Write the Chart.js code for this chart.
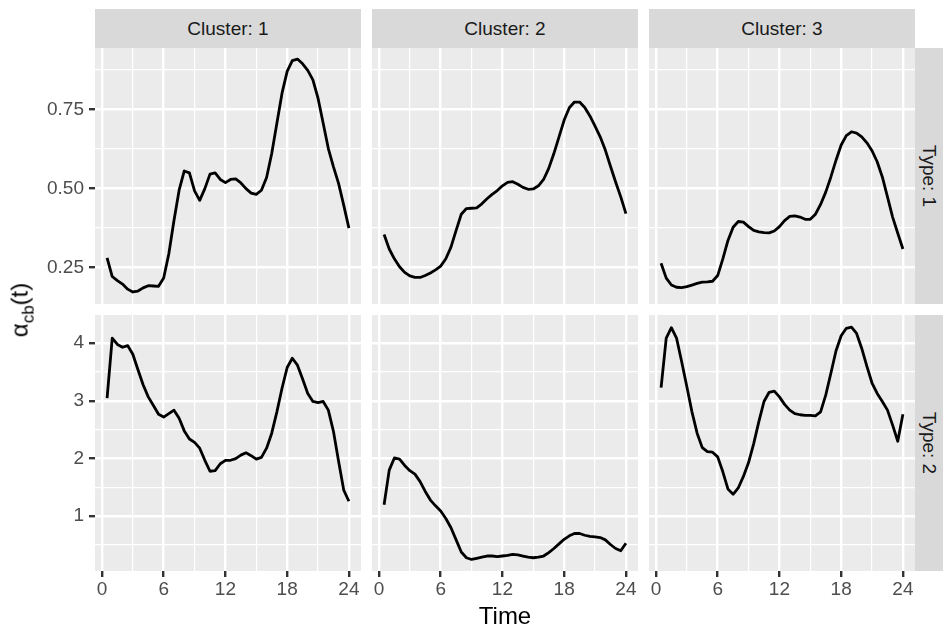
<!DOCTYPE html>
<html>
<head>
<meta charset="utf-8">
<script src="https://cdn.jsdelivr.net/npm/chart.js@4.4.1/dist/chart.umd.min.js"></script>
<style>
  body { margin: 0; background: #fff; width: 943px; height: 628px; overflow: hidden; position: relative;
         font-family: "Liberation Sans", Arial, sans-serif; }
  canvas { position: absolute; }
  .strip { position: absolute; background: #D9D9D9; color: #1A1A1A; font-size: 19px;
           display: flex; align-items: center; justify-content: center; white-space: nowrap; }
  .vtext { transform: rotate(90deg); }
  .title { position: absolute; color: #000; font-size: 24px; white-space: nowrap; }
</style>
</head>
<body>
<script>
// facet labels
const clusters = ["Cluster: 1", "Cluster: 2", "Cluster: 3"];
const types = ["Type: 1", "Type: 2"];

// time points (hours)
const times = [0.5, 1, 1.5, 2, 2.5, 3, 3.5, 4, 4.5, 5, 5.5, 6, 6.5, 7, 7.5, 8, 8.5, 9, 9.5, 10, 10.5, 11, 11.5, 12,
  12.5, 13, 13.5, 14, 14.5, 15, 15.5, 16, 16.5, 17, 17.5, 18, 18.5, 19, 19.5, 20, 20.5, 21, 21.5, 22, 22.5, 23, 23.5, 24];

// Type 1
const c1t1 = [0.280, 0.221, 0.208, 0.197, 0.181, 0.172, 0.175, 0.185, 0.192, 0.191, 0.190, 0.216, 0.293, 0.398, 0.494, 0.555,
  0.549, 0.492, 0.462, 0.499, 0.545, 0.549, 0.528, 0.518, 0.528, 0.530, 0.517, 0.499, 0.485, 0.481, 0.494, 0.534,
  0.610, 0.706, 0.801, 0.870, 0.904, 0.909, 0.894, 0.873, 0.843, 0.785, 0.706, 0.626, 0.568, 0.515, 0.446, 0.374];
const c2t1 = [0.354, 0.308, 0.277, 0.252, 0.234, 0.223, 0.218, 0.218, 0.224, 0.232, 0.242, 0.254, 0.277, 0.314, 0.367, 0.418,
  0.436, 0.437, 0.438, 0.451, 0.467, 0.481, 0.493, 0.508, 0.519, 0.521, 0.513, 0.503, 0.497, 0.498, 0.508, 0.528,
  0.563, 0.610, 0.663, 0.716, 0.755, 0.773, 0.773, 0.756, 0.729, 0.697, 0.663, 0.621, 0.570, 0.520, 0.473, 0.420];
const c3t1 = [0.263, 0.216, 0.194, 0.187, 0.186, 0.189, 0.194, 0.199, 0.203, 0.204, 0.206, 0.224, 0.277, 0.335, 0.377, 0.395,
  0.393, 0.379, 0.367, 0.362, 0.360, 0.359, 0.365, 0.379, 0.398, 0.411, 0.413, 0.409, 0.402, 0.402, 0.418, 0.449,
  0.488, 0.536, 0.589, 0.637, 0.667, 0.679, 0.675, 0.663, 0.644, 0.619, 0.584, 0.536, 0.473, 0.409, 0.358, 0.308];

// Type 2
const c1t2 = [3.05, 4.09, 3.98, 3.93, 3.96, 3.81, 3.54, 3.28, 3.07, 2.92, 2.77, 2.72, 2.78, 2.84, 2.70, 2.48,
  2.34, 2.28, 2.18, 1.97, 1.78, 1.79, 1.91, 1.97, 1.97, 2.00, 2.06, 2.10, 2.05, 1.99, 2.02, 2.18,
  2.44, 2.81, 3.22, 3.58, 3.74, 3.62, 3.38, 3.13, 2.99, 2.97, 2.99, 2.84, 2.47, 1.95, 1.45, 1.26];
const c2t2 = [1.20, 1.80, 2.01, 1.99, 1.88, 1.79, 1.73, 1.60, 1.43, 1.28, 1.18, 1.09, 0.96, 0.80, 0.59, 0.38,
  0.28, 0.25, 0.27, 0.29, 0.31, 0.31, 0.30, 0.31, 0.32, 0.34, 0.33, 0.31, 0.29, 0.28, 0.29, 0.31,
  0.37, 0.44, 0.52, 0.60, 0.66, 0.70, 0.70, 0.67, 0.65, 0.64, 0.63, 0.59, 0.51, 0.44, 0.40, 0.53];
const c3t2 = [3.23, 4.09, 4.27, 4.09, 3.68, 3.25, 2.81, 2.44, 2.19, 2.12, 2.11, 2.03, 1.77, 1.47, 1.38, 1.49,
  1.69, 1.93, 2.26, 2.64, 2.99, 3.15, 3.17, 3.07, 2.94, 2.84, 2.78, 2.76, 2.75, 2.75, 2.74, 2.81,
  3.10, 3.48, 3.87, 4.13, 4.26, 4.28, 4.17, 3.91, 3.60, 3.31, 3.13, 2.99, 2.84, 2.58, 2.30, 2.77];

// ticks
const xTicks = [0, 6, 12, 18, 24];
const xMinor = [3, 9, 15, 21];
const yTicksType1 = [0.25, 0.5, 0.75];
const yLabelsType1 = ["0.25", "0.50", "0.75"];
const yMinorType1 = [0.375, 0.625, 0.875];
const yTicksType2 = [1, 2, 3, 4];
const yLabelsType2 = ["1", "2", "3", "4"];
const yMinorType2 = [0.5, 1.5, 2.5, 3.5];

const panels = [[c1t1, c2t1, c3t1], [c1t2, c2t2, c3t2]];
const yLimits = [[0.134, 0.944], [0.05, 4.49]];

// layout in pixels
const panelLeft = [95, 372, 649];
const panelTop = [48, 315];
const panelW = 266;
const panelH = 256;
const yAxisW = 60;
const xAxisH = 40;
const fontFamily = '"Liberation Sans", Arial, sans-serif';

const panelBg = {
    id: 'panelBg',
    beforeDraw(chart) {
        let a = chart.chartArea;
        let ctx = chart.ctx;
        ctx.save();
        ctx.fillStyle = '#EBEBEB';
        ctx.fillRect(a.left, a.top, a.right - a.left, a.bottom - a.top);
        ctx.restore();
    }
};

function makePanel(row, col) {
    let values = panels[row][col];
    let yMajor = row == 0 ? yTicksType1 : yTicksType2;
    let yMin = row == 0 ? yMinorType1 : yMinorType2;
    let yLab = row == 0 ? yLabelsType1 : yLabelsType2;
    let yAll = yMajor.concat(yMin).sort((a, b) => a - b);
    let xAll = xTicks.concat(xMinor).sort((a, b) => a - b);

    let w = panelW + (col == 0 ? yAxisW : 0);
    let h = panelH + (row == 1 ? xAxisH : 0);
    let canvas = document.createElement('canvas');
    canvas.width = w;
    canvas.height = h;
    canvas.style.width = w + 'px';
    canvas.style.height = h + 'px';
    canvas.style.left = (panelLeft[col] - (col == 0 ? yAxisW : 0)) + 'px';
    canvas.style.top = panelTop[row] + 'px';
    document.body.appendChild(canvas);

    new Chart(canvas, {
        type: 'line',
        data: {
            datasets: [{
                data: times.map((t, i) => ({ x: t, y: values[i] })),
                borderColor: '#000000',
                borderWidth: 2.8,
                borderJoinStyle: 'round',
                pointRadius: 0,
                tension: 0,
                fill: false
            }]
        },
        options: {
            responsive: false,
            animation: false,
            devicePixelRatio: 1,
            layout: { padding: 0 },
            plugins: { legend: { display: false }, tooltip: { enabled: false } },
            scales: {
                x: {
                    type: 'linear',
                    min: -0.675,
                    max: 25.175,
                    afterBuildTicks: s => { s.ticks = xAll.map(v => ({ value: v })); },
                    afterFit: s => { s.height = row == 1 ? xAxisH : 0; s.paddingLeft = 0; s.paddingRight = 0; },
                    border: { display: false },
                    grid: {
                        color: '#FFFFFF',
                        lineWidth: c => xTicks.includes(c.tick.value) ? 2.4 : 1.2,
                        drawTicks: row == 1,
                        tickLength: 6,
                        tickWidth: 2.4,
                        tickColor: c => xTicks.includes(c.tick.value) ? '#333333' : 'rgba(0,0,0,0)'
                    },
                    ticks: {
                        display: row == 1,
                        autoSkip: false,
                        maxRotation: 0,
                        padding: 1,
                        color: '#4D4D4D',
                        font: { size: 19, family: fontFamily },
                        callback: v => xTicks.includes(v) ? String(v) : ''
                    }
                },
                y: {
                    type: 'linear',
                    min: yLimits[row][0],
                    max: yLimits[row][1],
                    afterBuildTicks: s => { s.ticks = yAll.map(v => ({ value: v })); },
                    afterFit: s => { s.width = col == 0 ? yAxisW : 0; s.paddingTop = 0; s.paddingBottom = 0; },
                    border: { display: false },
                    grid: {
                        color: '#FFFFFF',
                        lineWidth: c => yMajor.includes(c.tick.value) ? 2.4 : 1.2,
                        drawTicks: col == 0,
                        tickLength: 6,
                        tickWidth: 2.4,
                        tickColor: c => yMajor.includes(c.tick.value) ? '#333333' : 'rgba(0,0,0,0)'
                    },
                    ticks: {
                        display: col == 0,
                        autoSkip: false,
                        padding: 5,
                        color: '#4D4D4D',
                        font: { size: 19, family: fontFamily },
                        callback: v => {
                            let i = yMajor.indexOf(v);
                            return i >= 0 ? yLab[i] : '';
                        }
                    }
                }
            }
        },
        plugins: [panelBg]
    });
}

function addStrips() {
    for (let c = 0; c < clusters.length; c++) {
        let d = document.createElement('div');
        d.className = 'strip';
        d.style.left = panelLeft[c] + 'px';
        d.style.top = '9px';
        d.style.width = panelW + 'px';
        d.style.height = '39px';
        d.textContent = clusters[c];
        document.body.appendChild(d);
    }
    for (let r = 0; r < types.length; r++) {
        let d = document.createElement('div');
        d.className = 'strip';
        d.style.left = '915px';
        d.style.top = panelTop[r] + 'px';
        d.style.width = '28px';
        d.style.height = panelH + 'px';
        d.innerHTML = '<span class="vtext">' + types[r] + '</span>';
        document.body.appendChild(d);
    }
}

function addTitles() {
    let xt = document.createElement('div');
    xt.className = 'title';
    xt.textContent = 'Time';
    xt.style.left = '505px';
    xt.style.top = '616px';
    xt.style.transform = 'translate(-50%, -50%)';
    document.body.appendChild(xt);

    let yt = document.createElement('div');
    yt.className = 'title';
    yt.innerHTML = '&alpha;<sub style="font-size:17px">cb</sub>(t)';
    yt.style.left = '22px';
    yt.style.top = '310px';
    yt.style.transform = 'translate(-50%, -50%) rotate(-90deg)';
    document.body.appendChild(yt);
}

for (let r = 0; r < 2; r++) {
    for (let c = 0; c < 3; c++) {
        makePanel(r, c);
    }
}
addStrips();
addTitles();
</script>
</body>
</html>
